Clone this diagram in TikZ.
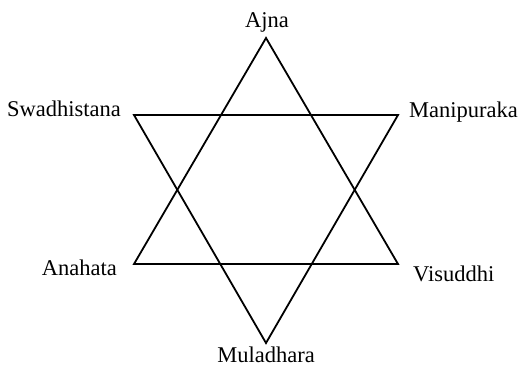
\documentclass[tikz,border=0pt]{standalone}
\usepackage{fontspec}
\setmainfont{Liberation Serif}
\begin{document}
\begin{tikzpicture}[x=1pt,y=-1pt,
  lbl/.style={inner sep=0pt,font=\fontsize{22.5}{26}\selectfont},
  edge/.style={line width=1.8pt,line join=miter}]
\useasboundingbox (0,0) rectangle (524,376);
% upward triangle
\coordinate (T) at (266,38);
\coordinate (LL) at (134,264);
\coordinate (LR) at (398,264);
% downward triangle
\coordinate (UL) at (134,115);
\coordinate (UR) at (398,115);
\coordinate (B) at (266,343);
\draw[edge] (T) -- (LL) -- (LR) -- cycle;
\draw[edge] (UL) -- (UR) -- (B) -- cycle;
\node[lbl,anchor=base] (ajna) at (267,27) {Ajna};
\node[lbl,anchor=base] (mula) at (266,362) {Muladhara};
\node[lbl,anchor=base east] (swad) at (121,116) {Swadhistana};
\node[lbl,anchor=base west] (mani) at (409,117) {Manipuraka};
\node[lbl,anchor=base east] (anah) at (117,275) {Anahata};
\node[lbl,anchor=base west] (visu) at (413,281) {Visuddhi};
\end{tikzpicture}
\end{document}
